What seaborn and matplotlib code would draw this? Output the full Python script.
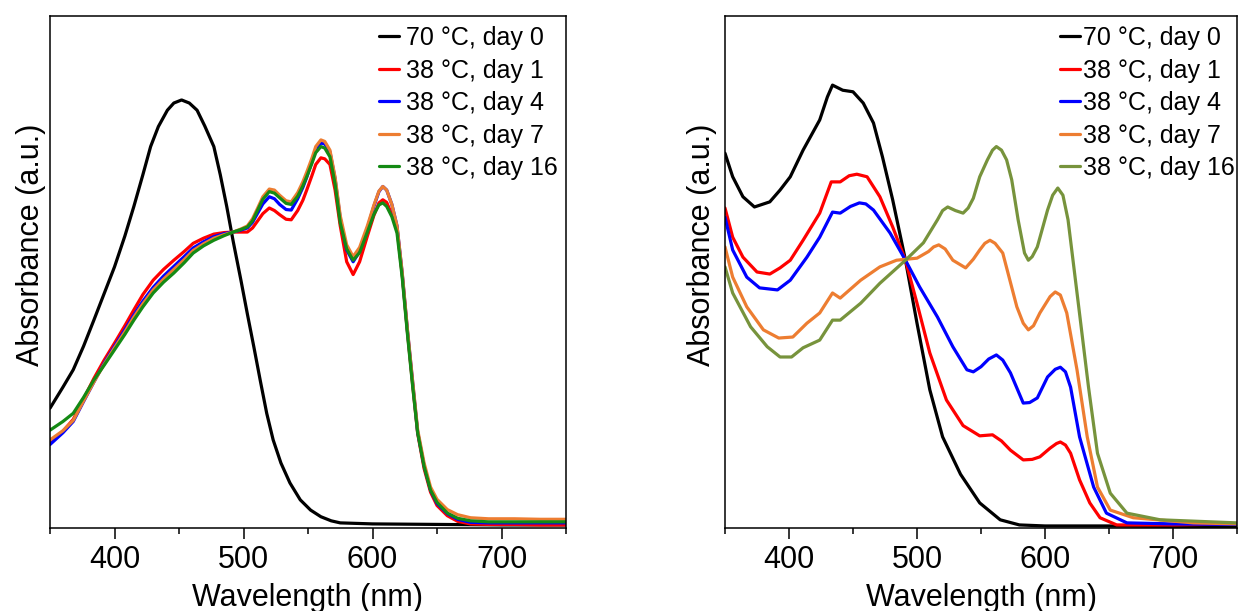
import matplotlib
matplotlib.use("Agg")
import matplotlib.pyplot as plt
import seaborn as sns
from matplotlib.ticker import MultipleLocator

# ---- left panel: spectra (absorbance normalised to the axis height) ----
wl_black_l = [350, 360, 368, 376, 384, 392, 400, 408, 415, 422, 428, 434, 441, 446, 452, 458,
              464, 470, 477, 482, 487, 492, 498, 503, 508, 513, 518, 523, 529, 536, 544, 552,
              560, 568, 575, 600, 650, 700, 750]
abs_black_l = [0.234, 0.275, 0.309, 0.355, 0.406, 0.458, 0.510, 0.570, 0.628, 0.690, 0.745,
               0.784, 0.816, 0.830, 0.836, 0.830, 0.816, 0.785, 0.745, 0.690, 0.628, 0.560,
               0.484, 0.418, 0.354, 0.288, 0.224, 0.172, 0.127, 0.088, 0.055, 0.035, 0.022,
               0.014, 0.010, 0.008, 0.007, 0.006, 0.006]

wl_col_l = [350, 360, 368, 376, 384, 392, 400, 408, 415, 422, 430, 438, 446, 454, 461, 469,
            477, 485, 492, 498, 503, 507, 511, 515, 520, 524, 528, 533, 537, 542, 546, 549,
            553, 556, 560, 563, 567, 571, 575, 580, 585, 590, 596, 601, 605, 608, 611, 615,
            619, 623, 627, 631, 635, 640, 645, 650, 658, 666, 676, 690, 710, 730, 750]
abs_red_l = [0.165, 0.189, 0.212, 0.252, 0.292, 0.328, 0.361, 0.395, 0.426, 0.456, 0.484,
             0.505, 0.523, 0.540, 0.556, 0.566, 0.574, 0.577, 0.578, 0.578, 0.578, 0.586,
             0.600, 0.614, 0.625, 0.620, 0.612, 0.603, 0.602, 0.620, 0.640, 0.660, 0.688,
             0.710, 0.723, 0.721, 0.710, 0.660, 0.590, 0.520, 0.495, 0.520, 0.570, 0.610,
             0.635, 0.641, 0.636, 0.612, 0.585, 0.495, 0.385, 0.283, 0.185, 0.116, 0.070,
             0.044, 0.024, 0.013, 0.008, 0.007, 0.007, 0.006, 0.006]
abs_blue_l = [0.163, 0.186, 0.208, 0.247, 0.285, 0.322, 0.355, 0.387, 0.416, 0.443, 0.470,
              0.492, 0.511, 0.530, 0.547, 0.559, 0.569, 0.575, 0.578, 0.582, 0.586, 0.597,
              0.615, 0.633, 0.647, 0.643, 0.632, 0.622, 0.621, 0.643, 0.665, 0.685, 0.715,
              0.738, 0.752, 0.750, 0.735, 0.682, 0.605, 0.543, 0.520, 0.540, 0.585, 0.628,
              0.657, 0.667, 0.660, 0.632, 0.590, 0.498, 0.388, 0.288, 0.188, 0.122, 0.074,
              0.048, 0.028, 0.017, 0.011, 0.010, 0.010, 0.010, 0.010]
abs_orange_l = [0.172, 0.190, 0.210, 0.248, 0.285, 0.320, 0.352, 0.383, 0.412, 0.438, 0.465,
                0.486, 0.505, 0.524, 0.542, 0.555, 0.566, 0.573, 0.578, 0.584, 0.590, 0.604,
                0.625, 0.647, 0.662, 0.660, 0.650, 0.639, 0.637, 0.655, 0.676, 0.695, 0.722,
                0.745, 0.758, 0.755, 0.738, 0.685, 0.610, 0.553, 0.530, 0.548, 0.590, 0.630,
                0.658, 0.667, 0.660, 0.632, 0.590, 0.500, 0.390, 0.290, 0.192, 0.127, 0.080,
                0.056, 0.036, 0.026, 0.020, 0.018, 0.018, 0.017, 0.017]
abs_green_l = [0.191, 0.208, 0.224, 0.255, 0.289, 0.318, 0.348, 0.378, 0.406, 0.432, 0.459,
               0.480, 0.498, 0.518, 0.537, 0.551, 0.562, 0.571, 0.578, 0.583, 0.588, 0.600,
               0.621, 0.642, 0.657, 0.654, 0.645, 0.634, 0.632, 0.648, 0.668, 0.686, 0.712,
               0.733, 0.745, 0.742, 0.725, 0.672, 0.596, 0.545, 0.523, 0.538, 0.578, 0.612,
               0.631, 0.635, 0.628, 0.608, 0.576, 0.490, 0.381, 0.280, 0.186, 0.120, 0.074,
               0.050, 0.029, 0.019, 0.014, 0.012, 0.012, 0.012, 0.012]

# ---- right panel ----
wl_black_r = [350, 356, 364, 373, 385, 393, 401, 411, 424, 430, 434, 442, 450, 458, 466, 473,
              481, 491, 500, 510, 520, 534, 549, 565, 580, 600, 650, 700, 750]
abs_black_r = [0.732, 0.686, 0.647, 0.627, 0.637, 0.660, 0.686, 0.738, 0.797, 0.842, 0.865,
               0.855, 0.852, 0.830, 0.791, 0.725, 0.641, 0.523, 0.400, 0.270, 0.178, 0.105,
               0.049, 0.016, 0.006, 0.004, 0.004, 0.003, 0.002]

wl_red_r = [350, 356, 364, 375, 385, 393, 401, 411, 424, 433, 440, 447, 453, 461, 471, 481,
            491, 500, 510, 523, 536, 549, 559, 566, 573, 583, 590, 596, 604, 609, 612, 616,
            620, 627, 635, 643, 656, 700, 750]
abs_red_r = [0.625, 0.568, 0.529, 0.500, 0.496, 0.508, 0.523, 0.562, 0.615, 0.676, 0.676,
             0.688, 0.691, 0.686, 0.647, 0.588, 0.523, 0.439, 0.342, 0.250, 0.200, 0.180,
             0.182, 0.170, 0.152, 0.133, 0.134, 0.139, 0.156, 0.165, 0.168, 0.162, 0.146,
             0.094, 0.049, 0.020, 0.006, 0.006, 0.008]

wl_blue_r = [350, 356, 367, 377, 391, 401, 414, 424, 434, 440, 448, 455, 460, 466, 479, 491,
             502, 516, 528, 539, 544, 550, 556, 562, 567, 573, 583, 588, 594, 602, 608, 612,
             616, 620, 627, 638, 648, 664, 700, 750]
abs_blue_r = [0.607, 0.543, 0.490, 0.469, 0.465, 0.484, 0.529, 0.568, 0.617, 0.615, 0.628,
              0.635, 0.633, 0.621, 0.576, 0.523, 0.471, 0.412, 0.354, 0.309, 0.305, 0.315,
              0.330, 0.338, 0.328, 0.303, 0.244, 0.245, 0.254, 0.295, 0.310, 0.314, 0.305,
              0.275, 0.178, 0.080, 0.029, 0.010, 0.008, 0.007]

wl_orange_r = [350, 356, 367, 380, 392, 403, 414, 424, 434, 440, 456, 471, 484, 500, 509,
               513, 517, 522, 528, 538, 544, 549, 553, 557, 561, 567, 578, 583, 587, 591,
               596, 604, 608, 612, 617, 625, 633, 641, 651, 669, 716, 750]
abs_orange_r = [0.549, 0.490, 0.432, 0.387, 0.371, 0.373, 0.400, 0.420, 0.459, 0.449, 0.484,
                0.510, 0.523, 0.527, 0.540, 0.549, 0.553, 0.545, 0.523, 0.508, 0.525, 0.543,
                0.556, 0.562, 0.556, 0.537, 0.432, 0.400, 0.387, 0.395, 0.420, 0.452, 0.461,
                0.455, 0.420, 0.309, 0.178, 0.080, 0.035, 0.020, 0.010, 0.008]

wl_green_r = [350, 356, 370, 383, 393, 402, 411, 424, 434, 440, 456, 471, 491, 505, 516, 520,
              524, 530, 536, 540, 544, 549, 555, 559, 562, 566, 570, 574, 579, 584, 587, 590,
              594, 602, 606, 610, 614, 618, 626, 634, 641, 651, 664, 690, 750]
abs_green_r = [0.510, 0.459, 0.393, 0.354, 0.334, 0.334, 0.352, 0.367, 0.406, 0.406, 0.439,
               0.478, 0.523, 0.557, 0.602, 0.620, 0.627, 0.620, 0.615, 0.625, 0.644, 0.686,
               0.719, 0.738, 0.745, 0.738, 0.719, 0.680, 0.602, 0.537, 0.523, 0.530, 0.549,
               0.621, 0.650, 0.664, 0.650, 0.602, 0.439, 0.275, 0.146, 0.068, 0.029, 0.016,
               0.010]

labels = ["70 °C, day 0", "38 °C, day 1", "38 °C, day 4", "38 °C, day 7", "38 °C, day 16"]

sns.set_style("ticks")
plt.rcParams['font.family'] = ['Liberation Sans', 'DejaVu Sans']
plt.rcParams['text.color'] = 'black'
plt.rcParams['axes.labelcolor'] = 'black'
plt.rcParams['xtick.color'] = 'black'

fig = plt.figure(figsize=(12.41, 6.11), dpi=100)
ax1 = fig.add_axes([50 / 1241, 83 / 611, 516 / 1241, 512 / 611])
ax2 = fig.add_axes([725 / 1241, 83 / 611, 512 / 1241, 512 / 611])

lw = 2.3
left_series = [(wl_black_l, abs_black_l, "black"),
               (wl_col_l, abs_red_l, "#ff0000"),
               (wl_col_l, abs_blue_l, "#0000ff"),
               (wl_col_l, abs_orange_l, "#ed7d31"),
               (wl_col_l, abs_green_l, "#148a14")]
right_series = [(wl_black_r, abs_black_r, "black"),
                (wl_red_r, abs_red_r, "#ff0000"),
                (wl_blue_r, abs_blue_r, "#0000ff"),
                (wl_orange_r, abs_orange_r, "#ed7d31"),
                (wl_green_r, abs_green_r, "#77933c")]

for ax, series, pad, anchor in [(ax1, left_series, 0.3, (0.989, 0.985)),
                                (ax2, right_series, 0.1, (1.0, 0.985))]:
    for (x, y, c), lab in zip(series, labels):
        sns.lineplot(x=x, y=y, color=c, lw=lw, label=lab, ax=ax, estimator=None, sort=False)

    ax.set_xlim(350, 750)
    ax.set_ylim(0, 1)
    ax.set_yticks([])
    ax.xaxis.set_major_locator(MultipleLocator(100))
    ax.xaxis.set_minor_locator(MultipleLocator(50))
    ax.tick_params(axis='x', which='major', length=8, width=1.1, direction='out',
                   labelsize=22, pad=4, colors='black')
    ax.tick_params(axis='x', which='minor', length=4, width=1.1, direction='out')
    for sp in ax.spines.values():
        sp.set_linewidth(1.1)
        sp.set_color('black')
    ax.set_xlabel("Wavelength (nm)", fontsize=22, labelpad=6)
    ax.set_ylabel("Absorbance (a.u.)", fontsize=22)
    ax.legend(loc='upper right', bbox_to_anchor=anchor, frameon=False, fontsize=18,
              handlelength=0.8, handletextpad=pad, labelspacing=0.34, borderaxespad=0,
              borderpad=0.1)

ax1.yaxis.set_label_coords(-0.008, 0.553)
ax2.yaxis.set_label_coords(-0.015, 0.553)

fig.savefig("out.png", dpi=100)
